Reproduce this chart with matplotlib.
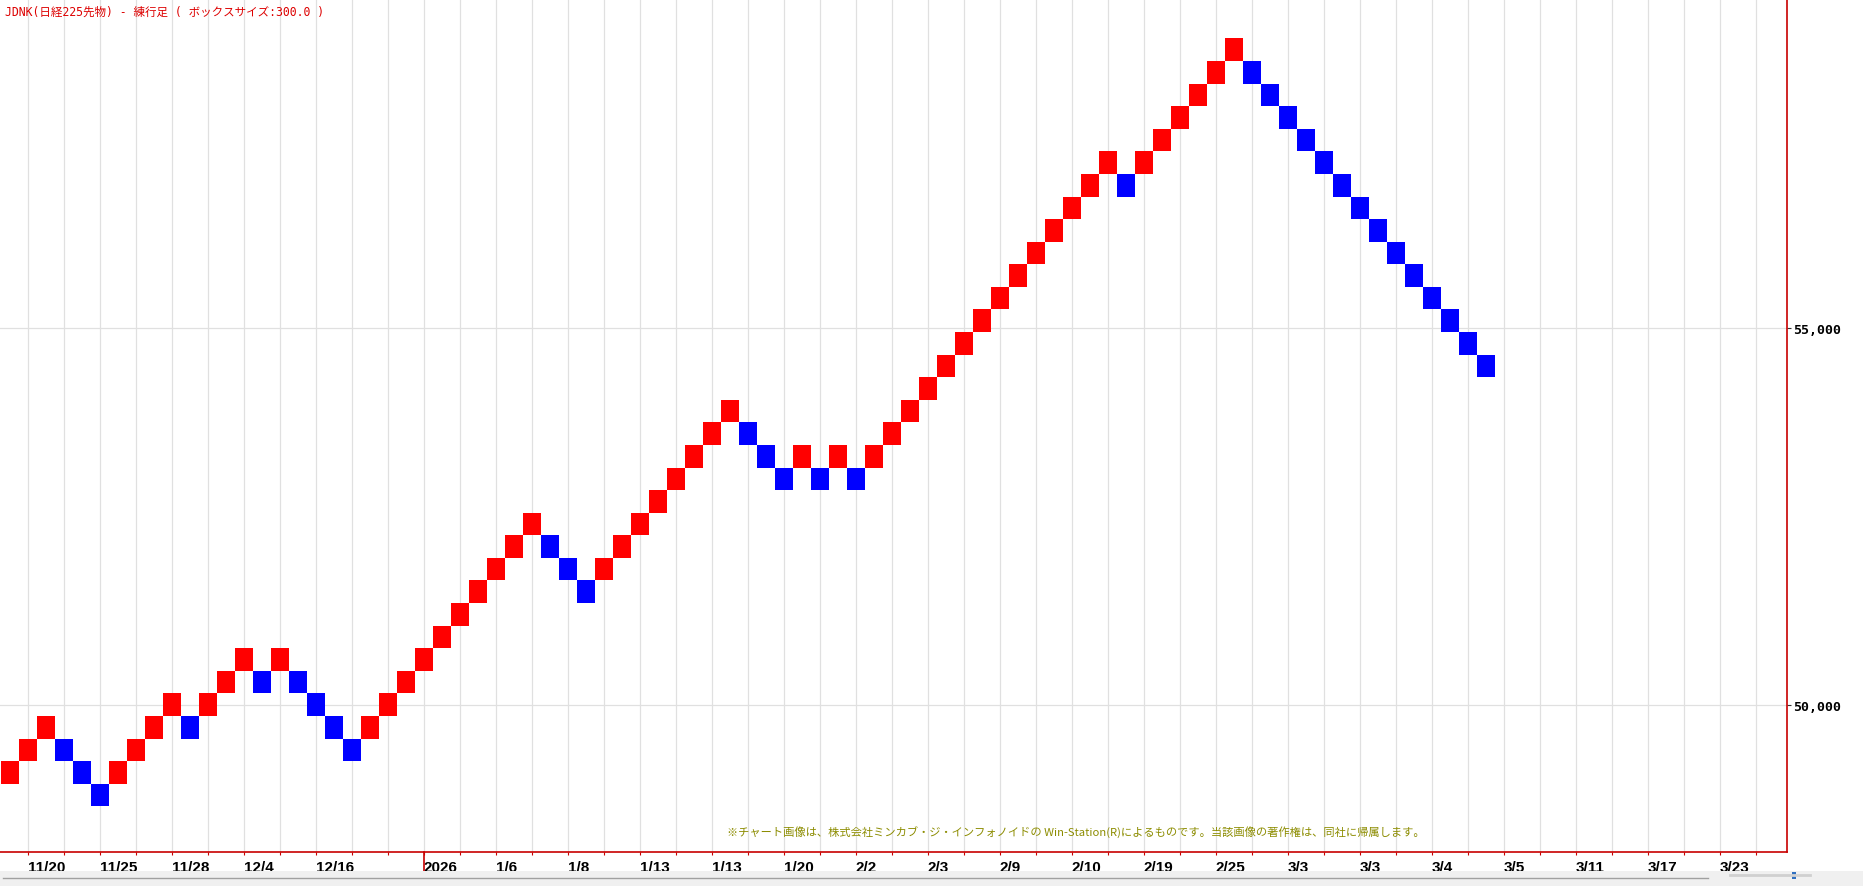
#imports
import matplotlib
matplotlib.use('Agg')
import matplotlib.pyplot as plt
import matplotlib.transforms as mtransforms
from matplotlib.patches import Rectangle
from matplotlib.lines import Line2D

#data : bottom price of every renko brick (box size 300)
box_size = 300
brick_low = [48950, 49250, 49550, 49250, 48950, 48650, 48950, 49250, 49550, 49850,
             49550, 49850, 50150, 50450, 50150, 50450, 50150, 49850, 49550, 49250,
             49550, 49850, 50150, 50450, 50750, 51050, 51350, 51650, 51950, 52250,
             51950, 51650, 51350, 51650, 51950, 52250, 52550, 52850, 53150, 53450,
             53750, 53450, 53150, 52850, 53150, 52850, 53150, 52850, 53150, 53450,
             53750, 54050, 54350, 54650, 54950, 55250, 55550, 55850, 56150, 56450,
             56750, 57050, 56750, 57050, 57350, 57650, 57950, 58250, 58550, 58250,
             57950, 57650, 57350, 57050, 56750, 56450, 56150, 55850, 55550, 55250,
             54950, 54650, 54350]

#x axis : brick index where a date label sits
label_boxes = [1, 5, 9, 13, 17, 23, 27, 31, 35, 39, 43, 47, 51, 55, 59, 63, 67, 71,
               75, 79, 83, 87, 91, 95]
date_labels = ['11/20', '11/25', '11/28', '12/4', '12/16', '2026', '1/6', '1/8', '1/13',
               '1/13', '1/20', '2/2', '2/3', '2/9', '2/10', '2/19', '2/25', '3/3', '3/3',
               '3/4', '3/5', '3/11', '3/17', '3/23']
grid_boxes = list(range(1, 98, 2))
price_ticks = [50000, 55000]

title = 'JDNK(日経225先物) - 練行足 ( ボックスサイズ:300.0 )'
note = '※チャート画像は、株式会社ミンカブ・ジ・インフォノイドの Win-Station(R)によるものです。当該画像の著作権は、同社に帰属します。'

RED = '#ff0000'
BLUE = '#0000ff'
AXIS_RED = '#c80000'
GRID = '#e0e0e0'

# colour : up brick red, down brick blue
colors = []
for i, v in enumerate(brick_low):
    if i == 0 or v > brick_low[i - 1]:
        colors.append(RED)
    else:
        colors.append(BLUE)

W, H = 1863, 887
fig = plt.figure(figsize=(W / 100, H / 100), dpi=100)
fig.patch.set_facecolor('white')
ax = fig.add_axes([0, 34 / H, 1787 / W, 853 / H])

ax.bar(range(len(brick_low)), box_size, bottom=brick_low, width=1.0, align='edge',
       color=colors, linewidth=0, zorder=3)

ax.set_xlim(-1 / 18, 1786 / 18)
ax.set_ylim(48043, 59374)

# grid
ax.set_xticks([b + 0.5 for b in grid_boxes], minor=True)
ax.set_xticks([b + 0.5 for b in label_boxes], labels=date_labels)
ax.set_yticks(price_ticks, labels=[f'{v:,}' for v in price_ticks])
ax.set_axisbelow(True)
ax.grid(True, which='both', axis='x', color=GRID, lw=0.9)
ax.grid(True, which='major', axis='y', color=GRID, lw=0.9)

# spines
for s in ['top', 'left']:
    ax.spines[s].set_visible(False)
for s in ['bottom', 'right']:
    ax.spines[s].set_color(AXIS_RED)
    ax.spines[s].set_linewidth(1.2)

# x ticks
ax.tick_params(axis='x', which='both', direction='out', length=2.5, width=0.8,
               color=AXIS_RED, pad=3)
for t in ax.get_xticklabels():
    t.set_fontfamily(['Liberation Sans Narrow', 'Liberation Sans'])
    t.set_fontweight('bold')
    t.set_fontsize(11)
    t.set_ha('left')
    t.set_color('black')

# y ticks on the right
ax.yaxis.tick_right()
ax.tick_params(axis='y', which='both', direction='out', length=3, width=0.8,
               color='#333333', pad=1.5)
ax.tick_params(axis='y', which='minor', length=0)
for t in ax.get_yticklabels():
    t.set_fontfamily('DejaVu Sans Mono')
    t.set_fontweight('bold')
    t.set_fontsize(9.5)

# long red mark for the new year
year_x = label_boxes[date_labels.index('2026')] + 0.5
trans = mtransforms.blended_transform_factory(ax.transData, fig.transFigure)
ax.add_line(Line2D([year_x, year_x], [34 / H, 15 / H], transform=trans,
                   color=AXIS_RED, lw=1.2, clip_on=False))

# title and note
fig.text(5 / W, 1 - 12 / H, title, fontsize=8.3, color='#dd0000',
         family=['DejaVu Sans Mono', 'Noto Sans CJK JP'], ha='left', va='center')
fig.text(1076 / W, 1 - 832 / H, note, fontsize=8.1, color='#8c8c00',
         family=['Noto Sans CJK JP', 'DejaVu Sans'], ha='center', va='center')

# bottom strip (scroll bar area)
fig.add_artist(Rectangle((0, 0), 1, 15 / H, transform=fig.transFigure,
                         facecolor='#f0f0f0', edgecolor='none'))
fig.add_artist(Line2D([3 / W, 1708 / W], [8 / H, 8 / H], transform=fig.transFigure,
                      color='#a0a0a0', lw=1))
fig.add_artist(Line2D([1730 / W, 1810 / W], [11 / H, 11 / H], transform=fig.transFigure,
                      color='#d0d0d0', lw=2))
fig.add_artist(Rectangle((1792 / W, 7 / H), 4 / W, 7 / H, transform=fig.transFigure,
                         facecolor='#3070c0', edgecolor='none'))

plt.savefig('out.png', dpi=100)
